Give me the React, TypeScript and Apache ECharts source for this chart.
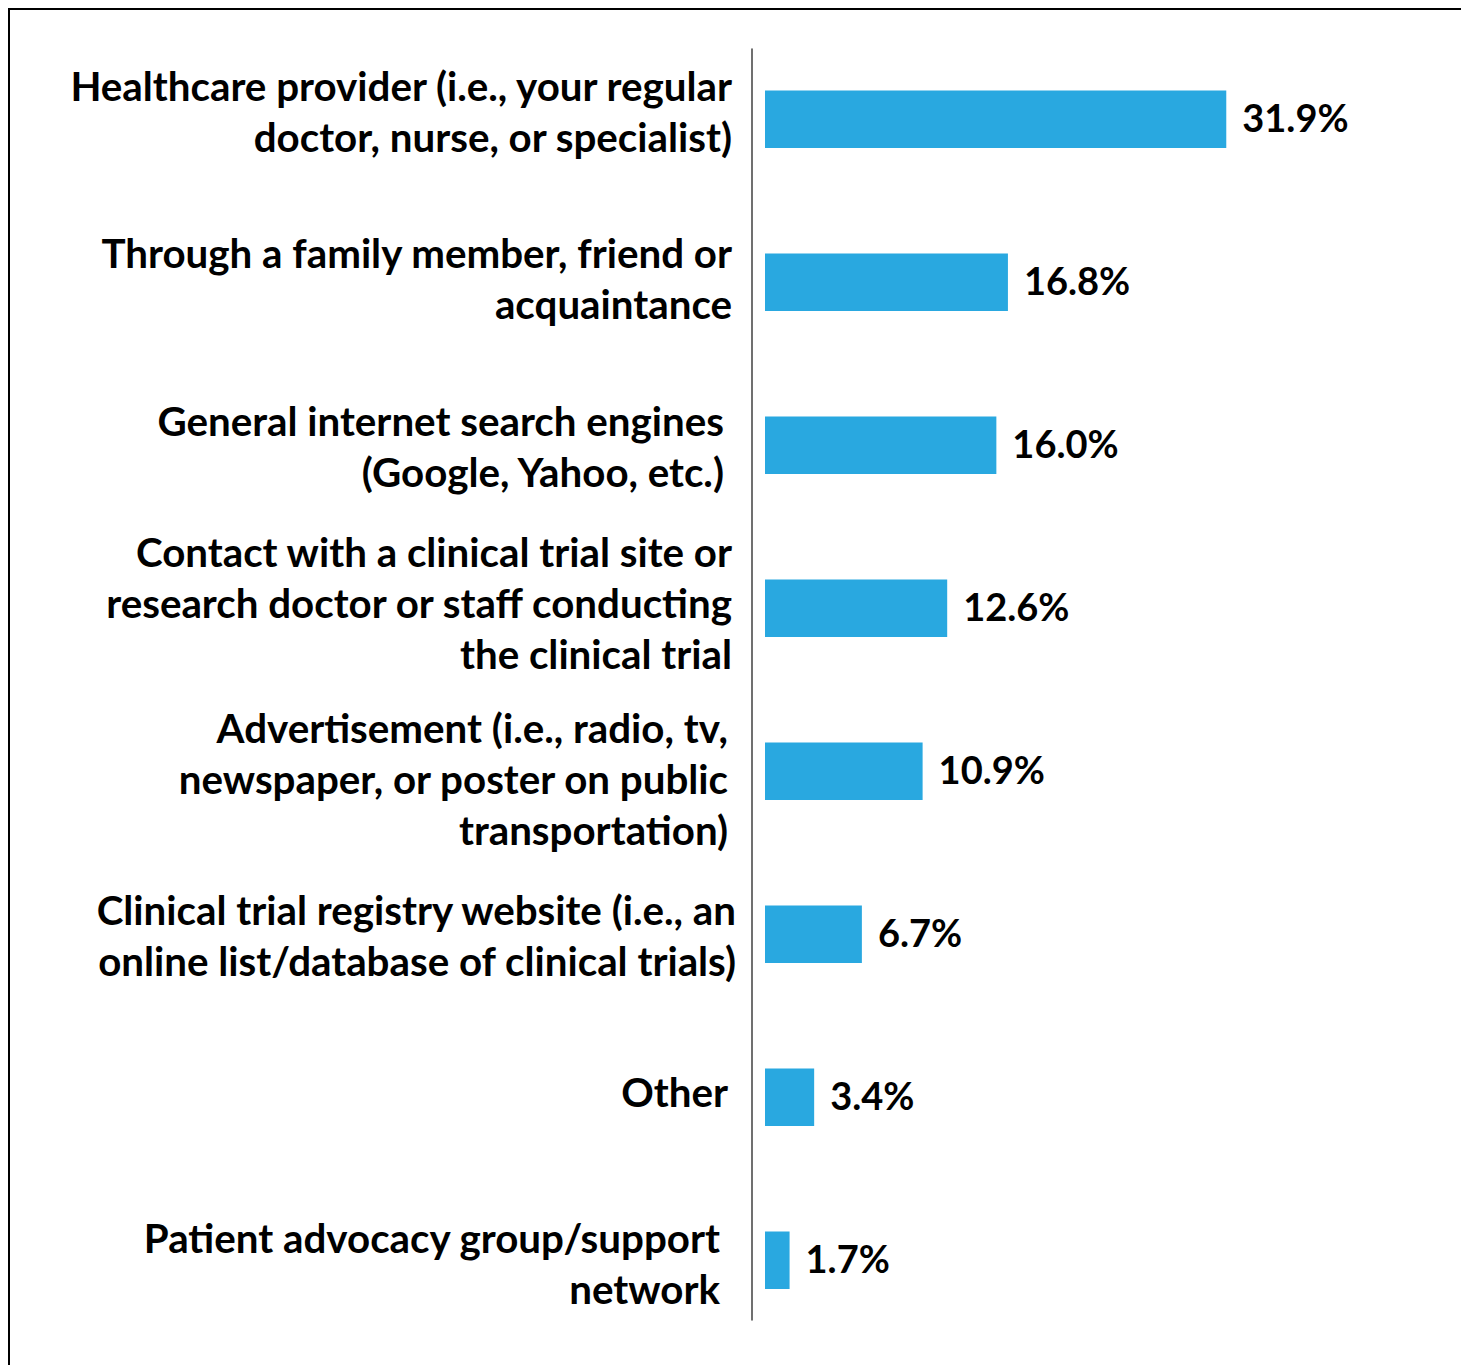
import React, { useEffect, useRef } from "react";
import * as echarts from "echarts";

const categories = [
  "Healthcare provider (i.e., your regular\ndoctor, nurse, or specialist)",
  "Through a family member, friend or\nacquaintance",
  "General internet search engines\n(Google, Yahoo, etc.)",
  "Contact with a clinical trial site or\nresearch doctor or staff conducting\nthe clinical trial",
  "Advertisement (i.e., radio, tv,\nnewspaper, or poster on public\ntransportation)",
  "Clinical trial registry website (i.e., an\nonline list/database of clinical trials)",
  "Other",
  "Patient advocacy group/support\nnetwork",
];
const values = [31.9, 16.8, 16.0, 12.6, 10.9, 6.7, 3.4, 1.7];

// label fine-tuning: [extra right padding, vertical shift]
const labelShift: [number, number][] = [
  [4, -8],
  [4, -4.5],
  [12, 1],
  [4, -6],
  [8, 7],
  [0, 1],
  [8, -6],
  [16, 3],
];

const FONT = "Lato, 'Noto Sans', sans-serif";
const BAR_COLOR = "#29A8E0";
const LINE_H = 51;

export default function App() {
  const ref = useRef<HTMLDivElement>(null);
  useEffect(() => {
    document.documentElement.style.overflow = "hidden";
    document.body.style.margin = "0";
    if (!ref.current) return;
    const chart = echarts.init(ref.current, undefined, { renderer: "svg" });
    const yData = categories.map((c, i) => {
      const [r, dy] = labelShift[i];
      const n = c.split("\n").length;
      const top = dy - (n * LINE_H) / 2;
      return {
        value: c,
        textStyle: { verticalAlign: "top", padding: [top, r, 0, 0] },
      };
    });
    chart.setOption({
      animation: false,
      backgroundColor: "#ffffff",
      grid: [
        { left: 755, top: 27.7, height: 1304, width: 578.4, containLabel: false },
        { left: 755, top: 39, height: 1271, width: 578.4, containLabel: false },
      ],
      xAxis: [
        { type: "value", min: 0, max: 40, show: false, gridIndex: 0 },
        { type: "value", min: 0, max: 1, show: false, gridIndex: 1 },
      ],
      yAxis: [
        {
          type: "category",
          data: yData,
          inverse: true,
          gridIndex: 0,
          offset: 13,
          axisLine: { show: false },
          axisTick: { show: false },
          axisLabel: {
            margin: 16,
            fontFamily: FONT,
            fontWeight: "bold",
            fontSize: 40.3,
            lineHeight: LINE_H,
            color: "#000000",
            align: "right",
          },
        },
        {
          type: "value",
          gridIndex: 1,
          offset: 13,
          min: 0,
          max: 1,
          axisLine: {
            show: true,
            onZero: false,
            lineStyle: { color: "#404040", width: 1.5 },
          },
          axisTick: { show: false },
          axisLabel: { show: false },
          splitLine: { show: false },
        },
      ],
      series: [
        {
          type: "bar",
          xAxisIndex: 0,
          yAxisIndex: 0,
          data: values,
          barWidth: 57.5,
          itemStyle: { color: BAR_COLOR },
          label: {
            show: true,
            position: "right",
            distance: 16,
            offset: [0, -2],
            formatter: (p: any) => p.value.toFixed(1) + "%",
            fontFamily: FONT,
            fontWeight: "bold",
            fontSize: 38,
            color: "#000000",
          },
        },
      ],
    });
    return () => chart.dispose();
  }, []);
  return (
    <div style={{ padding: "8px 0 0 8px" }}>
      <div
        ref={ref}
        style={{
          width: 1451,
          height: 1355,
          borderTop: "2px solid #000",
          borderLeft: "2px solid #000",
        }}
      />
    </div>
  );
}
